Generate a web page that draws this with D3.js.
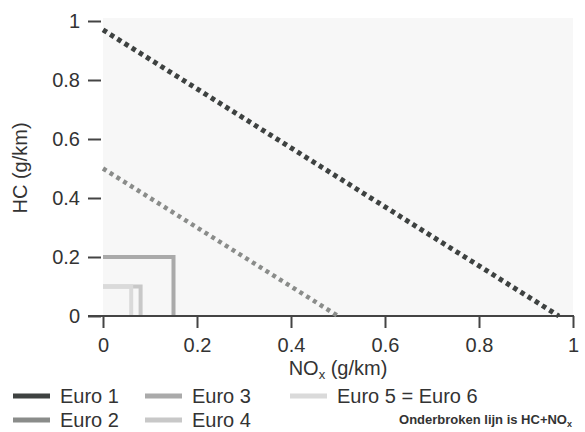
<!DOCTYPE html>
<html>
<head>
<meta charset="utf-8">
<script src="https://cdn.jsdelivr.net/npm/d3@7"></script>
<style>
  html, body { margin: 0; padding: 0; background: #fff; }
  svg text { font-family: "Liberation Sans", Arial, sans-serif; fill: #333; }
</style>
</head>
<body>
<svg id="chart" width="585" height="432"></svg>
<script>
// ---- data ----
const categories = ["Euro 1", "Euro 2", "Euro 3", "Euro 4", "Euro 5 = Euro 6"];
const hcLimits = [null, null, 0.2, 0.1, 0.1];          // g/km
const noxLimits = [null, null, 0.15, 0.08, 0.06];     // g/km
const hcNoxLimits = [0.97, 0.5, null, null, null];    // g/km (dashed line)
const colors = ["#3e4241", "#8a8c8a", "#aaaaaa", "#c8c8c8", "#dadada"];
const xTicks = [0, 0.2, 0.4, 0.6, 0.8, 1];
const yTicks = [0, 0.2, 0.4, 0.6, 0.8, 1];
const tickFmt = d => d === 0 ? "0" : d === 1 ? "1" : String(d);

const svg = d3.select("#chart");
const x = d3.scaleLinear().domain([0, 1]).range([103, 573]);
const y = d3.scaleLinear().domain([0, 1]).range([316, 21]);

// plot background (faint)
svg.append("rect").attr("x", x(0)).attr("y", y(1) - 3)
  .attr("width", x(1) - x(0)).attr("height", y(0) - y(1) + 3)
  .attr("fill", "#f7f7f7");

// y axis
const yAxis = svg.append("g").attr("transform", "translate(101,0)")
  .call(d3.axisLeft(y).tickValues(yTicks).tickFormat(tickFmt).tickSizeInner(13).tickSizeOuter(0).tickPadding(8));
yAxis.select(".domain").remove();
yAxis.selectAll(".tick line").attr("stroke", "#444").attr("stroke-width", 2);
yAxis.selectAll(".tick text").attr("font-size", 20).attr("fill", "#333")
  .attr("font-family", "Liberation Sans, Arial, sans-serif");

// x axis
const xAxis = svg.append("g").attr("transform", `translate(0,${y(0)})`)
  .call(d3.axisBottom(x).tickValues(xTicks).tickFormat(tickFmt).tickSizeInner(12).tickSizeOuter(0).tickPadding(10));
xAxis.select(".domain").remove();
xAxis.selectAll(".tick line").attr("stroke", "#444").attr("stroke-width", 2);
xAxis.selectAll(".tick text").attr("font-size", 20).attr("fill", "#333")
  .attr("font-family", "Liberation Sans, Arial, sans-serif");
svg.append("line").attr("x1", 88).attr("x2", x(1) + 1)
  .attr("y1", y(0)).attr("y2", y(0)).attr("stroke", "#444").attr("stroke-width", 2);

// limit rectangles (HC & NOx separately)
categories.forEach((c, i) => {
  if (hcLimits[i] == null) return;
  svg.append("path")
    .attr("d", d3.line()([[x(0), y(hcLimits[i])], [x(noxLimits[i]), y(hcLimits[i])], [x(noxLimits[i]), y(0) - 1]]))
    .attr("fill", "none").attr("stroke", colors[i]).attr("stroke-width", 4);
});

// HC+NOx dashed lines
categories.forEach((c, i) => {
  if (hcNoxLimits[i] == null) return;
  const v = hcNoxLimits[i];
  svg.append("line")
    .attr("x1", x(0)).attr("y1", y(v)).attr("x2", x(v)).attr("y2", y(0))
    .attr("stroke", colors[i]).attr("stroke-width", i === 0 ? 5 : 4.5)
    .attr("stroke-dasharray", i === 0 ? "4.5 4" : "4 4");
});

// axis titles
const xt = svg.append("text").attr("x", 338).attr("y", 375).attr("text-anchor", "middle").attr("font-size", 20);
xt.append("tspan").text("NO");
xt.append("tspan").attr("font-size", 13).attr("dy", 4).text("x");
xt.append("tspan").attr("dy", -4).text(" (g/km)");

svg.append("text").attr("transform", "translate(27,168) rotate(-90)")
  .attr("text-anchor", "middle").attr("font-size", 20).text("HC (g/km)");

// legend
const legPos = [[13, 396], [13, 420], [145, 396], [145, 420], [290, 396]];
categories.forEach((c, i) => {
  const [lx, ly] = legPos[i];
  svg.append("line").attr("x1", lx).attr("x2", lx + 37).attr("y1", ly).attr("y2", ly)
    .attr("stroke", colors[i]).attr("stroke-width", 5);
  svg.append("text").attr("x", lx + 47).attr("y", ly + 7).attr("font-size", 20).text(c);
});
const note = svg.append("text").attr("x", 572).attr("y", 424).attr("text-anchor", "end")
  .attr("font-size", 13).attr("font-weight", "bold");
note.append("tspan").text("Onderbroken lijn is HC+NO");
note.append("tspan").attr("font-size", 9).attr("dy", 3).text("x");
</script>
</body>
</html>
